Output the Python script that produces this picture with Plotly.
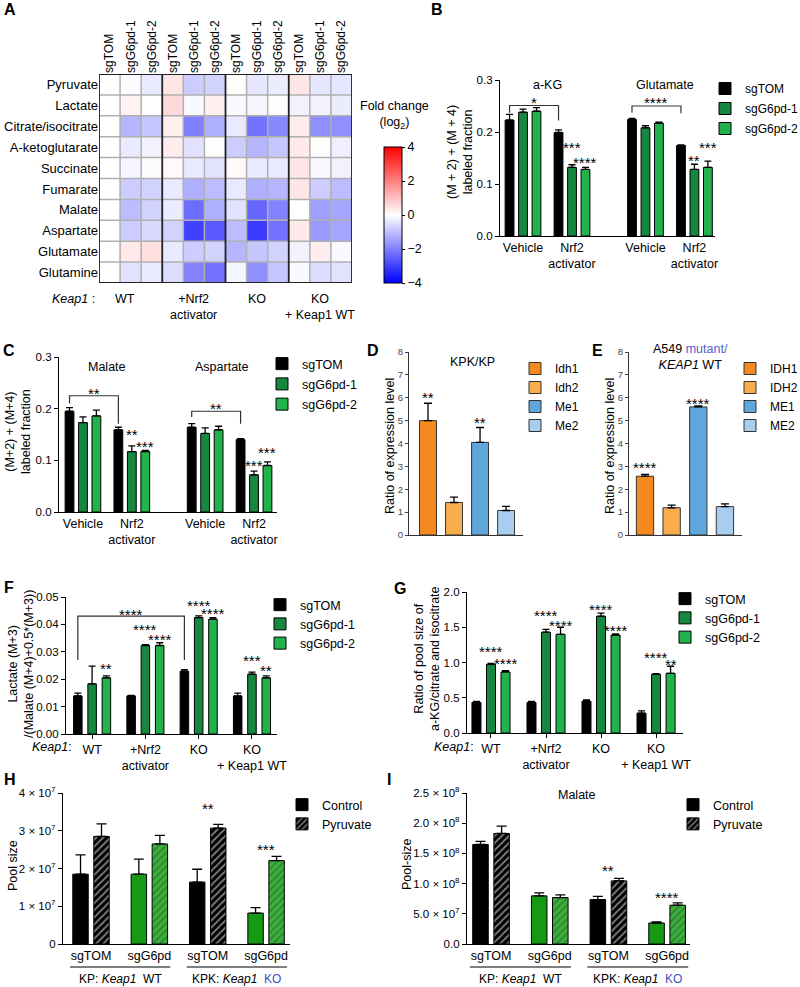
import plotly.graph_objects as go

FONT = "Liberation Sans, Arial, Helvetica, sans-serif"
W, H = 800, 987

# ================= DATA =================
# ---- Panel A: heatmap (log2 fold change) ----
hm_metabolites = ["Pyruvate", "Lactate", "Citrate/isocitrate", "A-ketoglutarate", "Succinate",
                  "Fumarate", "Malate", "Aspartate", "Glutamate", "Glutamine"]
hm_columns = ["sgTOM", "sgG6pd-1", "sgG6pd-2"] * 4
hm_conditions = ["WT", "+Nrf2<br>activator", "KO", "KO<br>+ Keap1 WT"]
fc_pyruvate = [0.0, -0.05, -0.35, 0.4, -0.8, -0.7, 0.05, -0.4, -0.3, 0.4, -0.4, -0.4]
fc_lactate = [0.0, 0.2, 0.0, 0.6, -0.1, 0.25, -0.1, -0.15, 0.05, -0.2, -0.2, -0.3]
fc_citrate = [0.0, -1.15, -0.9, 0.25, -2.0, -1.25, -0.35, -2.2, -1.85, 0.3, -1.75, -1.75]
fc_akg = [0.0, -0.35, -0.2, 0.3, -0.45, 0.05, -0.8, -1.15, -0.9, 0.35, 0.05, -0.25]
fc_succinate = [0.0, -0.15, -0.05, 0.1, -0.35, -0.45, 0.1, -0.35, -0.35, 0.4, -0.1, -0.2]
fc_fumarate = [0.0, -0.8, -0.7, -0.35, -1.25, -1.05, -0.35, -1.25, -1.15, 0.4, -0.8, -1.05]
fc_malate = [0.0, -1.05, -0.7, -0.3, -2.3, -1.25, -0.45, -2.4, -1.95, 0.0, -1.5, -1.4]
fc_aspartate = [0.0, -0.8, -0.6, -0.7, -3.0, -2.6, -1.05, -3.1, -2.2, 0.35, -1.6, -1.4]
fc_glutamate = [0.0, 0.35, 0.5, -0.35, -0.8, -0.7, -1.15, -0.9, -0.7, -0.2, 0.3, -0.1]
fc_glutamine = [0.0, -0.45, -0.35, -0.55, -1.95, -2.2, -0.15, -1.75, -0.9, -0.1, -0.55, -0.45]
cbar_ticks = [-4, -2, 0, 2, 4]
cbar_ticktext = ["−4", "−2", "0", "2", "4"]

# ---- shared series ----
series_names = ["sgTOM", "sgG6pd-1", "sgG6pd-2"]

# ---- Panel B ----
b_metabolites = ["a-KG", "Glutamate"]
b_treatments = ["Vehicle", "Nrf2<br>activator", "Vehicle", "Nrf2<br>activator"]
b_sgtom = [0.223, 0.199, 0.224, 0.174]
b_sgtom_err = [0.011, 0.005, 0.002, 0.001]
b_g1 = [0.238, 0.132, 0.208, 0.128]
b_g1_err = [0.006, 0.005, 0.004, 0.010]
b_g2 = [0.240, 0.128, 0.217, 0.132]
b_g2_err = [0.007, 0.004, 0.002, 0.012]
b_stars = [(1, 1, "***", 0.177), (1, 2, "****", 0.149), (3, 1, "**", 0.153), (3, 2, "***", 0.177)]
b_ytitle = "(M + 2) + (M + 4)<br>labeled fraction"

# ---- Panel C ----
c_metabolites = ["Malate", "Aspartate"]
c_treatments = ["Vehicle", "Nrf2<br>activator", "Vehicle", "Nrf2<br>activator"]
c_sgtom = [0.195, 0.159, 0.164, 0.140]
c_sgtom_err = [0.007, 0.005, 0.007, 0.002]
c_g1 = [0.173, 0.117, 0.152, 0.072]
c_g1_err = [0.011, 0.011, 0.011, 0.007]
c_g2 = [0.186, 0.117, 0.159, 0.090]
c_g2_err = [0.011, 0.002, 0.007, 0.007]
c_stars = [(1, 1, "**", 0.158), (1, 2, "***", 0.134), (3, 1, "***", 0.097), (3, 2, "***", 0.123)]
c_ytitle = "(M+2) + (M+4)<br>labeled fraction"

# ---- Panel D ----
d_genes = ["Idh1", "Idh2", "Me1", "Me2"]
d_values = [5.0, 1.42, 4.05, 1.07]
d_errs = [0.76, 0.24, 0.65, 0.18]
d_stars = [(0, "**", 6.2), (2, "**", 5.1)]
de_ytitle = "Ratio of expression level"

# ---- Panel E ----
e_genes = ["IDH1", "IDH2", "ME1", "ME2"]
e_values = [2.57, 1.19, 5.60, 1.24]
e_errs = [0.08, 0.12, 0.04, 0.12]
e_stars = [(0, "****", 3.12), (2, "****", 5.93)]

# ---- Panel F ----
keap1_conditions = ["WT", "+Nrf2<br>activator", "KO", "KO<br>+ Keap1 WT"]
f_sgtom = [0.0139, 0.0139, 0.0229, 0.0139]
f_sgtom_err = [0.0010, 0.0002, 0.0006, 0.0010]
f_g1 = [0.0183, 0.0323, 0.0425, 0.0218]
f_g1_err = [0.0065, 0.0003, 0.0006, 0.0008]
f_g2 = [0.0205, 0.0323, 0.0419, 0.0205]
f_g2_err = [0.0007, 0.0010, 0.0006, 0.0007]
f_stars = [(0, 2, "**", 0.0255), (1, 1, "****", 0.0396), (1, 2, "****", 0.0358),
           (2, 1, "****", 0.0482), (2, 2, "****", 0.0454), (3, 1, "***", 0.0282), (3, 2, "**", 0.0246)]
f_ytitle = "Lactate (M+3)<br>/(Malate (M+4)+0.5*(M+3))"

# ---- Panel G ----
g_sgtom = [0.433, 0.433, 0.450, 0.282]
g_sgtom_err = [0.014, 0.014, 0.020, 0.033]
g_g1 = [0.974, 1.43, 1.656, 0.833]
g_g1_err = [0.014, 0.04, 0.044, 0.009]
g_g2 = [0.866, 1.40, 1.39, 0.847]
g_g2_err = [0.019, 0.10, 0.015, 0.10]
g_stars = [(0, 1, "****", 1.214), (0, 2, "****", 1.044), (1, 1, "****", 1.717), (1, 2, "****", 1.576),
           (2, 1, "****", 1.81), (2, 2, "****", 1.51), (3, 1, "****", 1.13), (3, 2, "**", 1.035)]
g_ytitle = "Ratio of pool size of<br>a-KG/citrate and isocitrate"

# ---- Panels H and I ----
pool_genotypes = ["sgTOM", "sgG6pd", "sgTOM", "sgG6pd"]
pool_treatments = ["Control", "Pyruvate"]
pool_sections = ["KP: <i>Keap1</i>  WT", "KPK: <i>Keap1</i>  <span style='color:#3f4fc0'>KO</span>"]
h_control = [1.85e7, 1.85e7, 1.64e7, 0.82e7]
h_control_err = [0.51e7, 0.40e7, 0.34e7, 0.145e7]
h_pyruvate = [2.85e7, 2.65e7, 3.07e7, 2.21e7]
h_pyruvate_err = [0.33e7, 0.23e7, 0.10e7, 0.11e7]
h_stars = [(2, "**", 3.69e7), (3, "***", 2.6e7)]
h_tickvals = [0, 1e7, 2e7, 3e7, 4e7]
h_ticktext = ["0", "1 × 10<sup>7</sup>", "2 × 10<sup>7</sup>", "3 × 10<sup>7</sup>", "4 × 10<sup>7</sup>"]
h_ytitle = "Pool size"
i_control = [1.648e8, 0.797e8, 0.736e8, 0.348e8]
i_control_err = [0.05e8, 0.05e8, 0.054e8, 0.017e8]
i_pyruvate = [1.83e8, 0.769e8, 1.045e8, 0.642e8]
i_pyruvate_err = [0.12e8, 0.044e8, 0.04e8, 0.038e8]
i_stars = [(2, "**", 1.283e8), (3, "****", 0.83e8)]
i_tickvals = [0, 0.5e8, 1.0e8, 1.5e8, 2.0e8, 2.5e8]
i_ticktext = ["0.0", "5.0 × 10<sup>7</sup>", "1.0 × 10<sup>8</sup>", "1.5 × 10<sup>8</sup>",
              "2.0 × 10<sup>8</sup>", "2.5 × 10<sup>8</sup>"]
i_ytitle = "Pool-size"

# ================= STYLE =================
series_colors = ["#000000", "#16873f", "#22b24c"]
d_colors = ["#f48a1f", "#f9ad4d", "#5ea6db", "#a9cdee"]
geno_colors = {"sgTOM": "#000000", "sgG6pd": "#169a16"}
geno_hatch_bg = {"sgTOM": "#000000", "sgG6pd": "#35b535"}


def X(px):
    return px / W


def Y(py):
    return 1 - py / H


fig = go.Figure()
axes = {}
annotations = []
shapes = []


def xa(n):
    return "x" if n == 1 else f"x{n}"


def ya(n):
    return "y" if n == 1 else f"y{n}"


def set_axes(n, left, right, top, bottom, xrange, yrange, xkw=None, ykw=None):
    base = dict(showgrid=False, zeroline=False, fixedrange=True, showline=True, automargin=False,
                linecolor="black", linewidth=1.2, tickcolor="black", tickwidth=1.2,
                tickfont=dict(size=12.5, color="black", family=FONT))
    xd = dict(base, domain=[X(left), X(right)], range=xrange, anchor=ya(n), ticks="")
    yd = dict(base, domain=[Y(bottom), Y(top)], range=yrange, anchor=xa(n),
              ticks="outside", ticklen=4)
    yd["tickfont"] = dict(size=11.5, color="black", family=FONT)
    if xkw:
        xd.update(xkw)
    if ykw:
        yd.update(ykw)
    axes["xaxis" if n == 1 else f"xaxis{n}"] = xd
    axes["yaxis" if n == 1 else f"yaxis{n}"] = yd


def ann(text, x, y, xref="paper", yref="paper", size=12.5, **kw):
    d = dict(text=text, x=x, y=y, xref=xref, yref=yref, showarrow=False,
             xanchor="center", yanchor="middle",
             font=dict(size=size, color="black", family=FONT))
    d.update(kw)
    annotations.append(d)


def pann(text, xpx, ypx, size=12.5, **kw):
    ann(text, X(xpx), Y(ypx), size=size, **kw)


def ytitle(text, xpx, ypx, size=12.5):
    pann(text, xpx, ypx, size=size, textangle=-90)


def star(n, x, y, text, size=15):
    ann(text, x, y, xref=xa(n), yref=ya(n), size=size, yshift=-4)


def bracket(n, x0, x1, ytop, y0low, y1low):
    shapes.append(dict(type="path", xref=xa(n), yref=ya(n),
                       path=f"M {x0},{y0low} L {x0},{ytop} L {x1},{ytop} L {x1},{y1low}",
                       line=dict(color="#333333", width=1.2)))


def legend_cfg(text_x, first_y, size=12.5, gap=0):
    return dict(x=X(text_x - 40), xanchor="left", y=Y(first_y - 13), yanchor="top",
                xref="container", yref="container",
                bgcolor="rgba(0,0,0,0)", borderwidth=0, traceorder="grouped", tracegroupgap=gap,
                font=dict(size=size, color="black", family=FONT), itemclick=False,
                itemdoubleclick=False)


def err(arr, width=3.5):
    return dict(type="data", array=arr, arrayminus=[0] * len(arr), symmetric=False,
                color="black", thickness=1.3, width=width)


def grouped_bars(n, positions, vals_list, errs_list, spacing, width, legend):
    k = len(vals_list)
    for i, (vals, ers) in enumerate(zip(vals_list, errs_list)):
        off = (i - (k - 1) / 2) * spacing - width / 2
        fig.add_trace(go.Bar(
            x=positions, y=vals, width=width, offset=off, name=series_names[i],
            marker=dict(color=series_colors[i], line=dict(color="black", width=1)),
            error_y=err(ers), xaxis=xa(n), yaxis=ya(n), legend=legend,
            legendgroup=f"{legend}-{i}"))


# ================= PANEL A =================
hm_values = [fc_pyruvate, fc_lactate, fc_citrate, fc_akg, fc_succinate,
             fc_fumarate, fc_malate, fc_aspartate, fc_glutamate, fc_glutamine]
ncol, nrow = len(hm_columns), len(hm_metabolites)
fig.add_trace(go.Heatmap(
    z=hm_values, x=list(range(ncol)), y=list(range(nrow)),
    colorscale=[[0, "#0000ff"], [0.5, "#ffffff"], [1, "#ff0000"]], zmin=-4, zmax=4,
    xaxis="x", yaxis="y", showscale=True,
    colorbar=dict(x=X(384), xanchor="left", xpad=0, y=Y(283), yanchor="bottom", ypad=0,
                  len=(283 - 147) / H, lenmode="fraction", thickness=18, thicknessmode="pixels",
                  outlinecolor="black", outlinewidth=1, tickvals=cbar_ticks, ticktext=cbar_ticktext,
                  ticks="outside", ticklen=3, tickcolor="black",
                  tickfont=dict(size=12.5, color="black", family=FONT))))
set_axes(1, 99, 352, 74, 283, [-0.5, ncol - 0.5], [nrow - 0.5, -0.5],
         xkw=dict(side="top", tickvals=list(range(ncol)), ticktext=hm_columns, tickangle=-90,
                  showline=False, tickfont=dict(size=12, color="black", family=FONT)),
         ykw=dict(tickvals=list(range(nrow)), ticktext=hm_metabolites, ticks="", showline=False,
                  tickfont=dict(size=13, color="black", family=FONT)))
for i in range(1, ncol):
    if i % 3:
        shapes.append(dict(type="line", xref="x", yref="y", x0=i - 0.5, x1=i - 0.5, y0=-0.5,
                           y1=nrow - 0.5, line=dict(color="#b0b0b0", width=1.5)))
for j in range(1, nrow):
    shapes.append(dict(type="line", xref="x", yref="y", x0=-0.5, x1=ncol - 0.5, y0=j - 0.5,
                       y1=j - 0.5, line=dict(color="#b0b0b0", width=1.5)))
for i in range(3, ncol, 3):
    shapes.append(dict(type="line", xref="x", yref="y", x0=i - 0.5, x1=i - 0.5, y0=-0.5,
                       y1=nrow - 0.5, line=dict(color="#222222", width=1.8)))
shapes.append(dict(type="rect", xref="x", yref="y", x0=-0.5, x1=ncol - 0.5, y0=-0.5, y1=nrow - 0.5,
                   line=dict(color="#222222", width=1.8)))
pann("Fold change<br>(log<sub>2</sub>)", 394, 115, size=12.5)
pann("<i>Keap1</i> :", 97, 290, xanchor="right", yanchor="top")
for g, cond in enumerate(hm_conditions):
    ann(cond, 3 * g + 1, Y(290), xref="x", yref="paper", yanchor="top",
        xshift=-6 if g == 0 else 0)

# ================= PANEL B =================
b_pos = [i + 0.5 * (i // 2) for i in range(len(b_treatments))]
set_axes(2, 500, 715, 80, 236, [-0.47, 3.92], [0, 0.3],
         xkw=dict(tickvals=b_pos, ticktext=b_treatments),
         ykw=dict(dtick=0.1, tickformat=".1f"))
ytitle(b_ytitle, 460, 152)
grouped_bars(2, b_pos, [b_sgtom, b_g1, b_g2], [b_sgtom_err, b_g1_err, b_g2_err], 0.275, 0.18, "legend")
for g, s, t, y in b_stars:
    star(2, b_pos[g] + (s - 1) * 0.275, y, t)
bracket(2, b_pos[0] - 0.275, b_pos[1] - 0.275, 0.251, 0.237, 0.222)
star(2, (b_pos[0] + b_pos[1]) / 2 - 0.275, 0.265, "*")
bracket(2, b_pos[2] - 0.275, b_pos[3] - 0.275, 0.250, 0.237, 0.236)
star(2, (b_pos[2] + b_pos[3]) / 2 - 0.275, 0.264, "****")
ann(b_metabolites[0], (b_pos[0] + b_pos[1]) / 2, 0.29, xref="x2", yref="y2")
ann(b_metabolites[1], (b_pos[2] + b_pos[3]) / 2 - 0.1, 0.29, xref="x2", yref="y2")

# ================= PANEL C =================
c_pos = [i + 0.5 * (i // 2) for i in range(len(c_treatments))]
set_axes(3, 59, 277, 357, 512, [-0.49, 3.97], [0, 0.3],
         xkw=dict(tickvals=c_pos, ticktext=c_treatments),
         ykw=dict(dtick=0.1, tickformat=".1f"))
ytitle(c_ytitle, 18, 432)
grouped_bars(3, c_pos, [c_sgtom, c_g1, c_g2], [c_sgtom_err, c_g1_err, c_g2_err], 0.275, 0.18, "legend2")
for g, s, t, y in c_stars:
    star(3, c_pos[g] + (s - 1) * 0.275, y, t)
bracket(3, c_pos[0] - 0.275, c_pos[1] - 0.275, 0.225, 0.21, 0.171)
star(3, (c_pos[0] + c_pos[1]) / 2 - 0.275, 0.238, "**")
bracket(3, c_pos[2] - 0.275, c_pos[3] - 0.275, 0.195, 0.184, 0.171)
star(3, (c_pos[2] + c_pos[3]) / 2 - 0.275, 0.208, "**")
ann(c_metabolites[0], (c_pos[0] + c_pos[1]) / 2, 0.28, xref="x3", yref="y3")
ann(c_metabolites[1], (c_pos[2] + c_pos[3]) / 2 - 0.15, 0.28, xref="x3", yref="y3")

# ================= PANELS D, E =================
small_y = dict(dtick=1, tickfont=dict(size=9.5, color="#444444", family=FONT), ticklen=3,
               tickcolor="#444444", linecolor="#333333")
set_axes(4, 409, 523, 352, 535, [-0.73, 3.65], [0, 8],
         xkw=dict(showticklabels=False, linecolor="#333333"), ykw=small_y)
set_axes(5, 629, 742, 352, 535, [-0.6, 3.64], [0, 8],
         xkw=dict(showticklabels=False, linecolor="#333333"), ykw=small_y)
ytitle(de_ytitle, 390, 446)
ytitle(de_ytitle, 610, 446)
for n, genes, vals, ers, leg in [(4, d_genes, d_values, d_errs, "legend3"),
                                 (5, e_genes, e_values, e_errs, "legend4")]:
    for i, gname in enumerate(genes):
        fig.add_trace(go.Bar(
            x=[i], y=[vals[i]], width=0.65, name=gname,
            marker=dict(color=d_colors[i], line=dict(color="#333333", width=1)),
            error_y=err([ers[i]], width=4), xaxis=xa(n), yaxis=ya(n), legend=leg))
for i, t, y in d_stars:
    star(4, i, y, t)
for i, t, y in e_stars:
    star(5, i, y, t)
ann("KPK/KP", 1.7, 7.55, xref="x4", yref="y4")
ann("A549 <span style='color:#5560c8'>mutant/</span><br><i>KEAP1</i> WT", 1.7, 7.8,
    xref="x5", yref="y5")

# ================= PANEL F =================
f_pos = list(range(len(keap1_conditions)))
set_axes(6, 66, 277, 597, 734, [-0.49, 3.47], [0, 0.05],
         xkw=dict(tickvals=f_pos, ticktext=keap1_conditions, ticks="outside", ticklen=4),
         ykw=dict(dtick=0.01, tickformat=".2f"))
ytitle(f_ytitle, 21, 664)
grouped_bars(6, f_pos, [f_sgtom, f_g1, f_g2], [f_sgtom_err, f_g1_err, f_g2_err], 0.268, 0.16, "legend5")
for g, s, t, y in f_stars:
    star(6, f_pos[g] + (s - 1) * 0.268, y, t)
bracket(6, f_pos[0] - 0.268, f_pos[2] - 0.268, 0.043, 0.027, 0.027)
star(6, (f_pos[0] + f_pos[2]) / 2 - 0.268, 0.0452, "****")
ann("Malic flux", 1.56, 0.0538, xref="x6", yref="y6")
pann("<i>Keap1</i>:", 52, 747)

# ================= PANEL G =================
g_pos = list(range(len(keap1_conditions)))
set_axes(7, 467, 683, 592, 733, [-0.436, 3.49], [0, 2.0],
         xkw=dict(tickvals=g_pos, ticktext=keap1_conditions, ticks="outside", ticklen=4),
         ykw=dict(dtick=0.5, tickformat=".1f"))
ytitle(g_ytitle, 427, 658)
grouped_bars(7, g_pos, [g_sgtom, g_g1, g_g2], [g_sgtom_err, g_g1_err, g_g2_err], 0.264, 0.164, "legend6")
for g, s, t, y in g_stars:
    star(7, g_pos[g] + (s - 1) * 0.264, y, t)
ann("a-KG/citrate and isocitrate", 1.76, 2.076, xref="x7", yref="y7")
pann("<i>Keap1</i>:", 454, 747)

# ================= PANELS H, I =================
pool_pos = list(range(len(pool_genotypes)))
set_axes(8, 63, 290, 793, 944, [-0.48, 3.41], [0, 4e7],
         xkw=dict(tickvals=pool_pos, ticktext=pool_genotypes),
         ykw=dict(tickvals=h_tickvals, ticktext=h_ticktext))
set_axes(9, 467, 690, 793, 944, [-0.41, 3.39], [0, 2.5e8],
         xkw=dict(tickvals=pool_pos, ticktext=pool_genotypes),
         ykw=dict(tickvals=i_tickvals, ticktext=i_ticktext))
ytitle(h_ytitle, 13, 866)
ytitle(i_ytitle, 407, 865)
for n, ctrl, ctrl_e, pyr, pyr_e, leg in [(8, h_control, h_control_err, h_pyruvate, h_pyruvate_err, "legend7"),
                                          (9, i_control, i_control_err, i_pyruvate, i_pyruvate_err, "legend8")]:
    sp, wd = 0.18, 0.265
    fig.add_trace(go.Bar(
        x=pool_pos, y=ctrl, width=wd, offset=-sp - wd / 2, name=pool_treatments[0],
        marker=dict(color=[geno_colors[g] for g in pool_genotypes], line=dict(color="black", width=1)),
        error_y=err(ctrl_e, width=5), xaxis=xa(n), yaxis=ya(n), legend=leg))
    fig.add_trace(go.Bar(
        x=pool_pos, y=pyr, width=wd, offset=sp - wd / 2, name=pool_treatments[1],
        marker=dict(color=[geno_hatch_bg[g] for g in pool_genotypes],
                    line=dict(color="black", width=1),
                    pattern=dict(shape="/", bgcolor=[geno_hatch_bg[g] for g in pool_genotypes],
                                 fgcolor="white", size=5, solidity=0.35)),
        error_y=err(pyr_e, width=5), xaxis=xa(n), yaxis=ya(n), legend=leg))
    for s, (a, b) in enumerate([(0, 1), (2, 3)]):
        shapes.append(dict(type="line", xref=xa(n), yref="paper", x0=pool_pos[a] - 0.36,
                           x1=pool_pos[b] + 0.36, y0=Y(967), y1=Y(967),
                           line=dict(color="black", width=1.2)))
        ann(pool_sections[s], (pool_pos[a] + pool_pos[b]) / 2, Y(979), xref=xa(n), yref="paper",
            size=12)
for i, t, y in h_stars:
    star(8, pool_pos[i], y, t)
for i, t, y in i_stars:
    star(9, pool_pos[i], y, t)
ann("Citrate", 1.39, 4.03e7, xref="x8", yref="y8")
ann("Malate", 1.47, 2.46e8, xref="x9", yref="y9")

# ================= panel letters =================
for letter, xp, yp in [("A", 10, 9), ("B", 437, 9), ("C", 9, 350), ("D", 373, 350), ("E", 597, 350),
                       ("F", 9, 587), ("G", 400, 588), ("H", 10, 779), ("I", 389, 779)]:
    pann(f"<b>{letter}</b>", xp, yp, size=16)

# ================= layout =================
fig.update_layout(
    width=W, height=H, margin=dict(l=0, r=0, t=0, b=0, autoexpand=False), autosize=False,
    paper_bgcolor="white", plot_bgcolor="white", barmode="overlay",
    font=dict(family=FONT, size=12.5, color="black"),
    showlegend=True,
    legend=legend_cfg(745, 87, size=12, gap=1),
    legend2=legend_cfg(302, 362, gap=1),
    legend3=legend_cfg(555, 367, size=12),
    legend4=legend_cfg(770, 367, size=12),
    legend5=legend_cfg(300, 603),
    legend6=legend_cfg(705, 597),
    legend7=legend_cfg(322, 803, size=12.5),
    legend8=legend_cfg(713, 803, size=12.5),
    annotations=annotations, shapes=shapes, **axes)

fig.write_html("out.html", config={"displayModeBar": False},
               post_script="document.body.style.margin='0px';")
